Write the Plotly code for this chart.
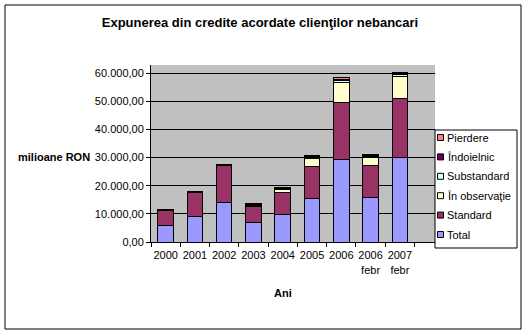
import plotly.graph_objects as go

categories = ["2000", "2001", "2002", "2003", "2004", "2005", "2006", "2006<br>febr", "2007<br>febr"]
total = [5700, 9200, 13900, 7100, 9800, 15500, 29400, 15800, 29900]
standard = [5400, 8400, 13300, 5400, 7700, 11300, 20100, 11300, 21100]
in_observatie = [0, 0, 0, 600, 1000, 2800, 7300, 2900, 7900]
substandard = [0, 0, 0, 0, 200, 300, 600, 300, 500]
indoielnic = [200, 200, 200, 300, 300, 500, 400, 500, 500]
pierdere = [100, 100, 100, 200, 200, 300, 500, 200, 400]

series = [
    ("Total", total, "#9999FF"),
    ("Standard", standard, "#993366"),
    ("În observaţie", in_observatie, "#FFFFCC"),
    ("Substandard", substandard, "#CCFFFF"),
    ("Îndoielnic", indoielnic, "#660066"),
    ("Pierdere", pierdere, "#FF8080"),
]

W, H = 527, 335
ML, MR, MT, MB = 151, 92, 65, 93
pw = W - ML - MR
ph = H - MT - MB

fig = go.Figure()
for name, vals, col in series:
    fig.add_trace(go.Bar(x=categories, y=vals, name=name,
                         marker=dict(color=col, line=dict(color="black", width=1))))

def px_x(p):
    return (p - ML) / pw

def px_y(p):
    return (H - MB - p) / ph

fig.update_layout(
    width=W, height=H,
    margin=dict(l=ML, r=MR, t=MT, b=MB, pad=0, autoexpand=False),
    barmode="stack", bargap=0.47,
    separators=",.",
    paper_bgcolor="white", plot_bgcolor="#C0C0C0",
    font=dict(family="Liberation Sans, Arial", size=11, color="black"),
    title=dict(text="<b>Expunerea din credite acordate clienţilor nebancari</b>",
               x=260 / W, xanchor="center", y=1 - 22 / H, yanchor="middle",
               yref="container", xref="container",
               font=dict(size=13, color="black")),
    xaxis=dict(type="category", range=[-0.5, 9.2], showline=True, linecolor="black",
               ticks="outside", tickson="boundaries", ticklen=4, tickcolor="black",
               showgrid=False, tickangle=0, tickfont=dict(size=11),
               ticklabelstandoff=3),
    yaxis=dict(range=[0, 62840], dtick=10000, tickformat=",.2f", showline=True,
               linecolor="black", ticks="outside", ticklen=4, tickcolor="black",
               gridcolor="black", gridwidth=1, zeroline=False, tickfont=dict(size=11)),
    showlegend=False,
)

# legend box (drawn as layout decorations, entries taken from the series list)
fig.add_shape(type="rect", xref="paper", yref="paper",
              x0=px_x(435), x1=px_x(517), y0=px_y(248), y1=px_y(130),
              line=dict(color="black", width=1), fillcolor="white", layer="above")
row0, step = 137.5, 19.4
for i, (name, vals, col) in enumerate(reversed(series)):
    yc = row0 + i * step
    fig.add_shape(type="rect", xref="paper", yref="paper",
                  x0=px_x(437.5), x1=px_x(443.5), y0=px_y(yc + 3), y1=px_y(yc - 3),
                  line=dict(color="black", width=1), fillcolor=col, layer="above")
    fig.add_annotation(text=name, xref="paper", yref="paper",
                       x=px_x(446), y=px_y(yc), showarrow=False, xanchor="left",
                       yanchor="middle", font=dict(size=11), borderpad=0)

fig.add_annotation(text="<b>milioane RON</b>", xref="paper", yref="paper",
                   x=px_x(92), y=px_y(157), showarrow=False, xanchor="right",
                   yanchor="middle", font=dict(size=11))
fig.add_annotation(text="<b>Ani</b>", xref="paper", yref="paper",
                   x=px_x(283), y=px_y(293), showarrow=False, xanchor="center",
                   yanchor="middle", font=dict(size=11))
fig.add_shape(type="rect", xref="paper", yref="paper",
              x0=px_x(5), x1=px_x(521), y0=px_y(329), y1=px_y(5),
              line=dict(color="black", width=1), fillcolor="rgba(0,0,0,0)", layer="above")

fig.write_html("out.html")
